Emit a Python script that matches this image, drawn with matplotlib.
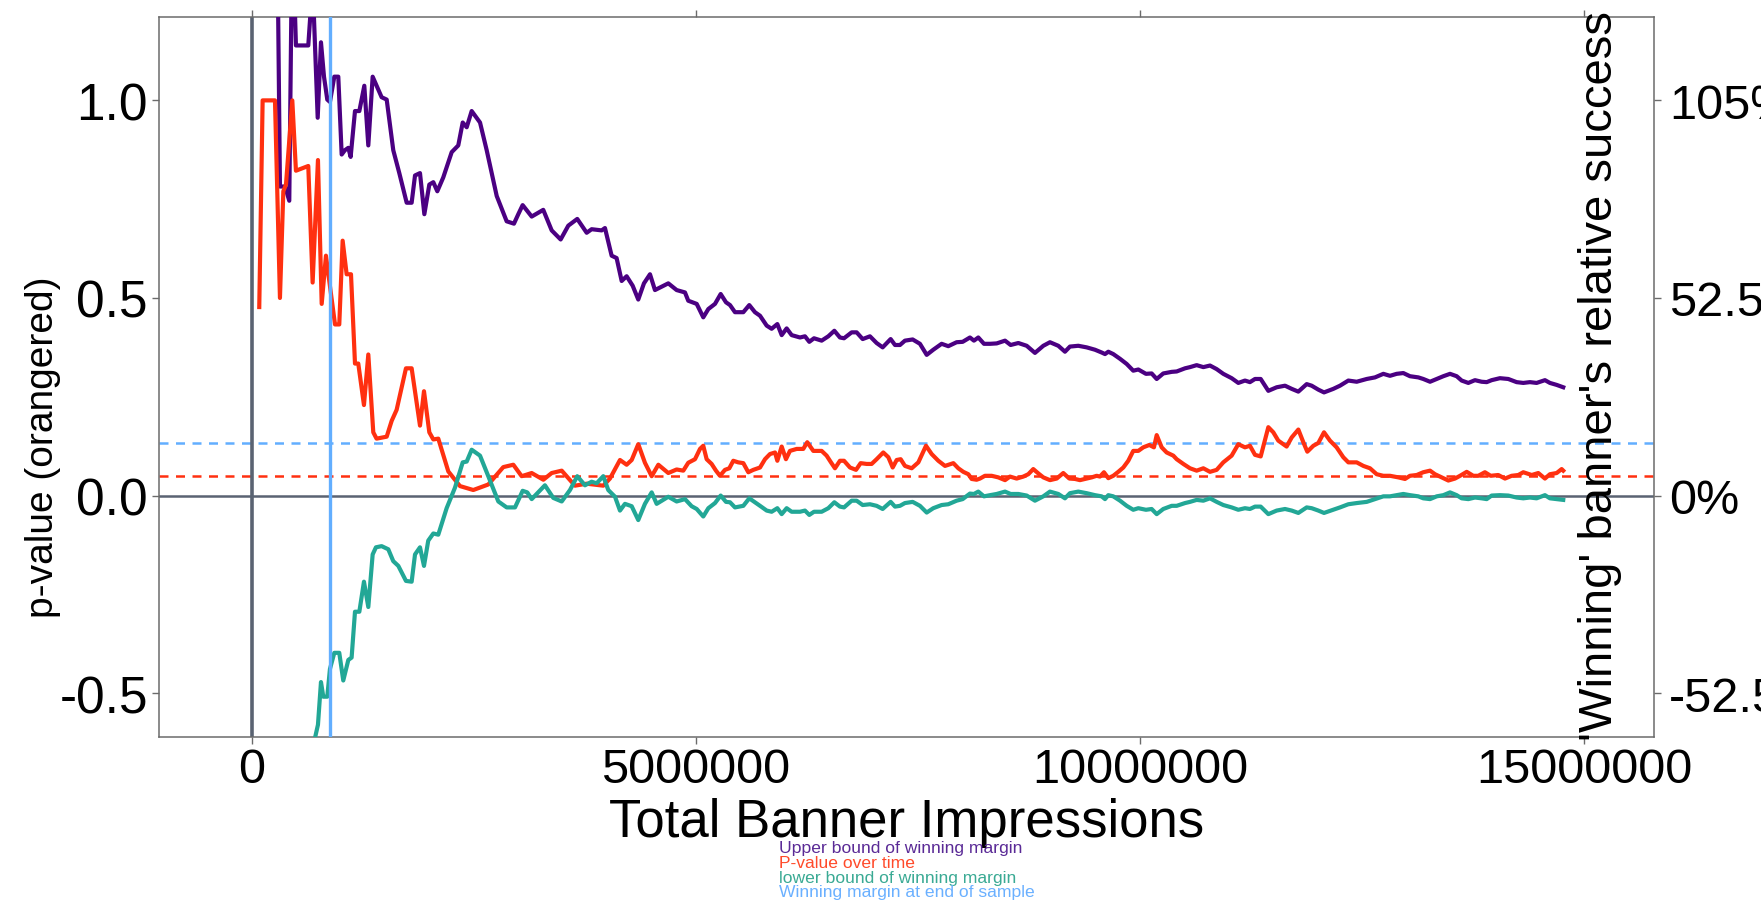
import matplotlib.pyplot as plt
import numpy as np
from matplotlib.ticker import FuncFormatter

plt.rcParams['font.family'] = ['Liberation Sans', 'DejaVu Sans']

# --- values (impressions in thousands) ---
upper_k = [82, 120, 259, 315, 372, 420, 454, 495, 634, 683, 740, 777, 811, 848, 878, 927, 972,
           1010, 1047, 1085, 1111, 1160, 1209, 1265, 1310, 1359, 1404, 1460, 1517, 1591, 1659,
           1742, 1798, 1836, 1892, 1941, 1997, 2042, 2087, 2154, 2249, 2323, 2373, 2418, 2474,
           2568, 2643, 2756, 2868, 2950, 2999, 3048, 3150, 3280, 3375, 3476, 3562, 3663, 3769,
           3825, 3938, 3975, 4050, 4106, 4163, 4219, 4287, 4350, 4414, 4482, 4538, 4688, 4782,
           4876, 4913, 5008, 5082, 5139, 5214, 5278, 5338, 5383, 5439, 5533, 5600, 5664, 5721,
           5796, 5852, 5916, 5965, 6021, 6077, 6171, 6227, 6276, 6329, 6415, 6490, 6558, 6621,
           6667, 6753, 6809, 6877, 6959, 7034, 7102, 7192, 7241, 7297, 7353, 7440, 7522, 7598,
           7672, 7766, 7841, 7935, 8003, 8085, 8130, 8179, 8243, 8311, 8386, 8480, 8543, 8630,
           8724, 8817, 8911, 8986, 9080, 9155, 9211, 9305, 9399, 9493, 9568, 9606, 9643, 9699,
           9775, 9850, 9924, 9981, 10067, 10131, 10188, 10262, 10357, 10413, 10507, 10563,
           10638, 10713, 10788, 10863, 10938, 11032, 11107, 11182, 11238, 11295, 11359, 11445,
           11539, 11633, 11708, 11783, 11877, 11933, 12008, 12072, 12177, 12252, 12346, 12440,
           12553, 12646, 12740, 12815, 12890, 12965, 13040, 13134, 13190, 13266, 13341, 13416,
           13491, 13566, 13622, 13697, 13772, 13847, 13904, 13960, 14053, 14147, 14241, 14316,
           14391, 14466, 14560, 14616, 14692, 14766]
upper_val = [2.5, 2.3, 2.0, 0.782, 0.782, 0.746, 1.45, 1.139, 1.139, 1.30, 0.956, 1.147, 1.06,
             1.002, 0.996, 1.06, 1.06, 0.863, 0.874, 0.880, 0.857, 0.973, 0.973, 1.037, 0.886,
             1.06, 1.037, 1.008, 1.002, 0.874, 0.816, 0.741, 0.741, 0.810, 0.816, 0.712, 0.787,
             0.793, 0.770, 0.805, 0.869, 0.886, 0.944, 0.932, 0.973, 0.944, 0.874, 0.758, 0.694,
             0.688, 0.712, 0.735, 0.706, 0.723, 0.671, 0.648, 0.683, 0.700, 0.665, 0.674, 0.671,
             0.677, 0.607, 0.601, 0.543, 0.555, 0.531, 0.496, 0.537, 0.560, 0.520, 0.537, 0.520,
             0.514, 0.493, 0.485, 0.451, 0.472, 0.485, 0.510, 0.489, 0.482, 0.464, 0.464, 0.482,
             0.464, 0.455, 0.430, 0.422, 0.434, 0.406, 0.423, 0.406, 0.400, 0.403, 0.389, 0.398,
             0.392, 0.403, 0.417, 0.400, 0.398, 0.413, 0.413, 0.396, 0.403, 0.386, 0.375, 0.396,
             0.381, 0.381, 0.392, 0.395, 0.384, 0.356, 0.369, 0.384, 0.378, 0.388, 0.389, 0.400,
             0.392, 0.400, 0.384, 0.384, 0.385, 0.392, 0.381, 0.386, 0.379, 0.361, 0.379, 0.388,
             0.379, 0.364, 0.377, 0.379, 0.375, 0.369, 0.362, 0.358, 0.364, 0.358, 0.346, 0.333,
             0.316, 0.319, 0.308, 0.309, 0.295, 0.309, 0.313, 0.314, 0.322, 0.325, 0.330, 0.325,
             0.329, 0.320, 0.308, 0.297, 0.285, 0.291, 0.287, 0.295, 0.295, 0.265, 0.274, 0.278,
             0.270, 0.263, 0.282, 0.278, 0.268, 0.261, 0.270, 0.278, 0.291, 0.288, 0.295, 0.299,
             0.308, 0.303, 0.308, 0.310, 0.302, 0.299, 0.295, 0.288, 0.295, 0.302, 0.308, 0.302,
             0.291, 0.285, 0.292, 0.288, 0.287, 0.292, 0.297, 0.295, 0.287, 0.285, 0.287, 0.285,
             0.292, 0.285, 0.280, 0.274]

pval_k = [82, 120, 259, 315, 353, 383, 454, 495, 634, 683, 743, 785, 833, 935, 983, 1021, 1066,
          1115, 1160, 1197, 1261, 1310, 1366, 1403, 1517, 1573, 1629, 1734, 1798, 1892, 1937,
          1997, 2042, 2098, 2211, 2342, 2492, 2661, 2830, 2943, 3037, 3150, 3281, 3375, 3488,
          3637, 3769, 3956, 4031, 4144, 4219, 4276, 4350, 4425, 4501, 4576, 4688, 4782, 4857,
          4913, 4989, 5045, 5082, 5120, 5176, 5225, 5270, 5326, 5375, 5420, 5476, 5533, 5589,
          5645, 5721, 5777, 5833, 5890, 5916, 5965, 6013, 6058, 6134, 6208, 6253, 6321, 6415,
          6471, 6520, 6565, 6621, 6667, 6734, 6802, 6854, 6922, 6978, 7034, 7109, 7166, 7215,
          7260, 7305, 7353, 7429, 7504, 7590, 7654, 7729, 7804, 7898, 7954, 8010, 8067, 8104,
          8160, 8198, 8254, 8329, 8404, 8480, 8536, 8611, 8686, 8742, 8798, 8855, 8911, 8986,
          9062, 9136, 9204, 9268, 9324, 9380, 9456, 9512, 9549, 9594, 9643, 9699, 9755, 9812,
          9868, 9924, 9981, 10037, 10105, 10157, 10188, 10244, 10300, 10375, 10413, 10488,
          10563, 10638, 10713, 10788, 10863, 10938, 11032, 11107, 11182, 11238, 11295, 11359,
          11445, 11501, 11557, 11651, 11708, 11783, 11839, 11884, 11952, 12008, 12072, 12139,
          12214, 12289, 12346, 12440, 12515, 12590, 12665, 12740, 12815, 12909, 12984, 13040,
          13116, 13190, 13266, 13322, 13397, 13472, 13547, 13604, 13679, 13753, 13809, 13884,
          13949, 14034, 14110, 14185, 14260, 14316, 14411, 14485, 14560, 14616, 14692, 14748,
          14766]
pval_val = [0.477, 1.0, 1.0, 0.50, 0.77, 0.787, 1.0, 0.822, 0.834, 0.539, 0.849, 0.485, 0.607,
            0.433, 0.433, 0.645, 0.56, 0.56, 0.334, 0.334, 0.229, 0.357, 0.16, 0.144, 0.149,
            0.189, 0.217, 0.322, 0.322, 0.177, 0.264, 0.16, 0.142, 0.144, 0.061, 0.024, 0.014,
            0.028, 0.072, 0.078, 0.049, 0.057, 0.04, 0.057, 0.063, 0.025, 0.03, 0.025, 0.043,
            0.09, 0.078, 0.09, 0.13, 0.083, 0.049, 0.078, 0.057, 0.066, 0.063, 0.083, 0.092,
            0.118, 0.126, 0.092, 0.080, 0.063, 0.050, 0.065, 0.069, 0.088, 0.084, 0.082, 0.059,
            0.065, 0.071, 0.092, 0.105, 0.109, 0.088, 0.124, 0.092, 0.113, 0.118, 0.118, 0.135,
            0.113, 0.113, 0.101, 0.084, 0.069, 0.088, 0.088, 0.071, 0.065, 0.082, 0.080, 0.080,
            0.092, 0.109, 0.097, 0.071, 0.090, 0.092, 0.075, 0.069, 0.084, 0.126, 0.105, 0.088,
            0.075, 0.082, 0.069, 0.060, 0.054, 0.042, 0.040, 0.043, 0.050, 0.050, 0.046, 0.039,
            0.048, 0.043, 0.048, 0.054, 0.067, 0.056, 0.046, 0.039, 0.043, 0.057, 0.043, 0.042,
            0.039, 0.042, 0.046, 0.050, 0.048, 0.059, 0.044, 0.050, 0.060, 0.071, 0.088, 0.113,
            0.113, 0.122, 0.128, 0.122, 0.153, 0.122, 0.109, 0.101, 0.092, 0.080, 0.069, 0.063,
            0.069, 0.060, 0.065, 0.084, 0.101, 0.130, 0.122, 0.126, 0.103, 0.099, 0.173, 0.160,
            0.139, 0.124, 0.147, 0.167, 0.135, 0.111, 0.126, 0.133, 0.160, 0.139, 0.122, 0.097,
            0.084, 0.084, 0.075, 0.069, 0.054, 0.050, 0.050, 0.046, 0.042, 0.050, 0.052, 0.059,
            0.063, 0.054, 0.046, 0.038, 0.043, 0.050, 0.060, 0.050, 0.050, 0.059, 0.050, 0.052,
            0.043, 0.050, 0.052, 0.059, 0.052, 0.057, 0.043, 0.054, 0.057, 0.067, 0.063]

lower_k = [82, 120, 259, 315, 372, 420, 454, 495, 634, 683, 743, 777, 803, 848, 878, 927, 983,
           1028, 1085, 1122, 1160, 1209, 1261, 1310, 1359, 1396, 1460, 1535, 1591, 1648, 1734,
           1798, 1836, 1892, 1937, 1985, 2042, 2098, 2192, 2286, 2373, 2418, 2474, 2568, 2661,
           2774, 2868, 2962, 3048, 3100, 3150, 3299, 3393, 3488, 3581, 3663, 3750, 3825, 3881,
           3956, 4012, 4088, 4144, 4200, 4276, 4350, 4425, 4501, 4557, 4688, 4782, 4876, 4951] \
    + upper_k[upper_k.index(5008):]
lower_val = [-2.5, -2.3, -2.0, -1.6, -1.5, -1.4, -1.1, -1.2, -0.85, -0.64, -0.58, -0.472,
             -0.509, -0.509, -0.439, -0.398, -0.398, -0.468, -0.416, -0.410, -0.294, -0.294,
             -0.218, -0.282, -0.149, -0.131, -0.128, -0.136, -0.166, -0.178, -0.216, -0.218,
             -0.149, -0.131, -0.178, -0.114, -0.096, -0.099, -0.032, 0.020, 0.084, 0.086, 0.116,
             0.101, 0.049, -0.015, -0.030, -0.030, 0.012, 0.008, -0.009, 0.026, -0.006, -0.015,
             0.014, 0.049, 0.026, 0.035, 0.031, 0.049, 0.014, -0.003, -0.038, -0.021, -0.027,
             -0.062, -0.021, 0.008, -0.021, -0.003, -0.015, -0.009, -0.027,
             -0.034, -0.053, -0.032, -0.019, 0.000, -0.016, -0.017, -0.030, -0.026, -0.007,
             -0.017, -0.026, -0.038, -0.041, -0.032, -0.047, -0.032, -0.041, -0.041, -0.038,
             -0.049, -0.041, -0.041, -0.032, -0.017, -0.028, -0.030, -0.013, -0.013, -0.024,
             -0.022, -0.026, -0.034, -0.016, -0.028, -0.026, -0.019, -0.016, -0.026, -0.043,
             -0.032, -0.024, -0.022, -0.013, -0.009, 0.005, 0.004, 0.010, -0.002, 0.001, 0.004,
             0.010, 0.004, 0.004, 0.000, -0.013, -0.002, 0.010, 0.004, -0.007, 0.006, 0.010,
             0.006, 0.001, -0.002, -0.009, 0.001, -0.002, -0.013, -0.026, -0.036, -0.032,
             -0.036, -0.034, -0.047, -0.034, -0.026, -0.026, -0.019, -0.016, -0.011, -0.013,
             -0.007, -0.016, -0.024, -0.030, -0.036, -0.032, -0.034, -0.028, -0.028, -0.047,
             -0.038, -0.034, -0.038, -0.044, -0.030, -0.032, -0.038, -0.044, -0.036, -0.030,
             -0.022, -0.019, -0.016, -0.009, -0.002, -0.002, 0.001, 0.004, 0.001, -0.002,
             -0.007, -0.009, -0.002, 0.001, 0.008, 0.001, -0.007, -0.009, -0.005, -0.007,
             -0.009, 0.000, 0.001, 0.000, -0.005, -0.007, -0.005, -0.007, 0.001, -0.007,
             -0.009, -0.011]

p_threshold = 0.05
final_margin = 0.133
final_margin_at_k = 878

x_ticks = [0, 5000000, 10000000, 15000000]
left_ticks = [-0.5, 0.0, 0.5, 1.0]
right_ticks = [-52.5, 0, 52.5, 105]
right_scale = 105  # 1.0 on the left axis == 105% on the right

legend_names = ["Upper bound of winning margin", "P-value over time",
                "lower bound of winning margin", "Winning margin at end of sample"]

PURPLE = "#4B0082"
RED = "#FF3010"
TEAL = "#22A796"
BLUE = "#62AEFF"
GRAY = "#5A6372"
legend_colors = ["#5A2A96", "#FF4A2A", "#3AAA94", "#6AB0FF"]

W, H = 1761, 903
fig = plt.figure(figsize=(W / 100, H / 100), dpi=100)
ax = fig.add_axes([159 / W, 1 - 738 / H, (1654 - 159) / W, (738 - 18) / H])

ax.axhline(final_margin, color=BLUE, lw=1.8, ls=(0, (3.6, 3.0)), zorder=1)
ax.axhline(p_threshold, color=RED, lw=1.8, ls=(0, (3.6, 3.0)), zorder=1)
ax.axhline(0, color=GRAY, lw=1.8, zorder=1.5)
ax.axvline(0, color=GRAY, lw=2.6, zorder=1.5)

ax.plot(np.array(upper_k) * 1000, upper_val, color=PURPLE, lw=3, zorder=3)
ax.plot(np.array(pval_k) * 1000, pval_val, color=RED, lw=3, zorder=3)
ax.plot(np.array(lower_k) * 1000, lower_val, color=TEAL, lw=3, zorder=3)
ax.axvline(final_margin_at_k * 1000, color=BLUE, lw=2.4, zorder=4)

ax.set_xlim(-1047000, 15788000)
ax.set_ylim(-0.611, 1.211)
ax.set_xticks(x_ticks)
ax.xaxis.set_major_formatter(FuncFormatter(lambda v, p: f"{int(round(v))}"))
ax.set_yticks(left_ticks)
ax.yaxis.set_major_formatter(FuncFormatter(lambda v, p: f"{v:.1f}"))

for s in ax.spines.values():
    s.set_color("#6b6b6b")
    s.set_linewidth(1.1)
ax.tick_params(axis='x', which='both', top=True, direction='out', length=5, width=1,
               color="#6b6b6b", labelsize=35, pad=2)
ax.tick_params(axis='y', direction='out', length=5, width=1, color="#6b6b6b",
               labelsize=37, pad=3)

ax2 = ax.twinx()
ax2.set_ylim(ax.get_ylim()[0] * right_scale, ax.get_ylim()[1] * right_scale)
ax2.set_yticks(right_ticks)
ax2.yaxis.set_major_formatter(FuncFormatter(lambda v, p: f"{v:g}%"))
ax2.tick_params(axis='y', direction='out', length=5, width=1, color="#6b6b6b",
                labelsize=35, pad=6)
for s in ax2.spines.values():
    s.set_visible(False)

fig.text(43 / W, 1 - 447 / H, "p-value (orangered)", rotation=90, ha='center', va='center',
         fontsize=28)
fig.text(1600 / W, 1 - 376 / H, "'Winning' banner's relative success", rotation=90,
         ha='center', va='center', fontsize=34)
fig.text(907 / W, 1 - 823 / H, "Total Banner Impressions", ha='center', va='center', fontsize=38)

for i, (name, col) in enumerate(zip(legend_names, legend_colors)):
    fig.text(779 / W, 1 - (853 + 14.8 * i) / H, name, color=col, fontsize=12.6,
             ha='left', va='baseline')

fig.savefig("out.png", dpi=100)
